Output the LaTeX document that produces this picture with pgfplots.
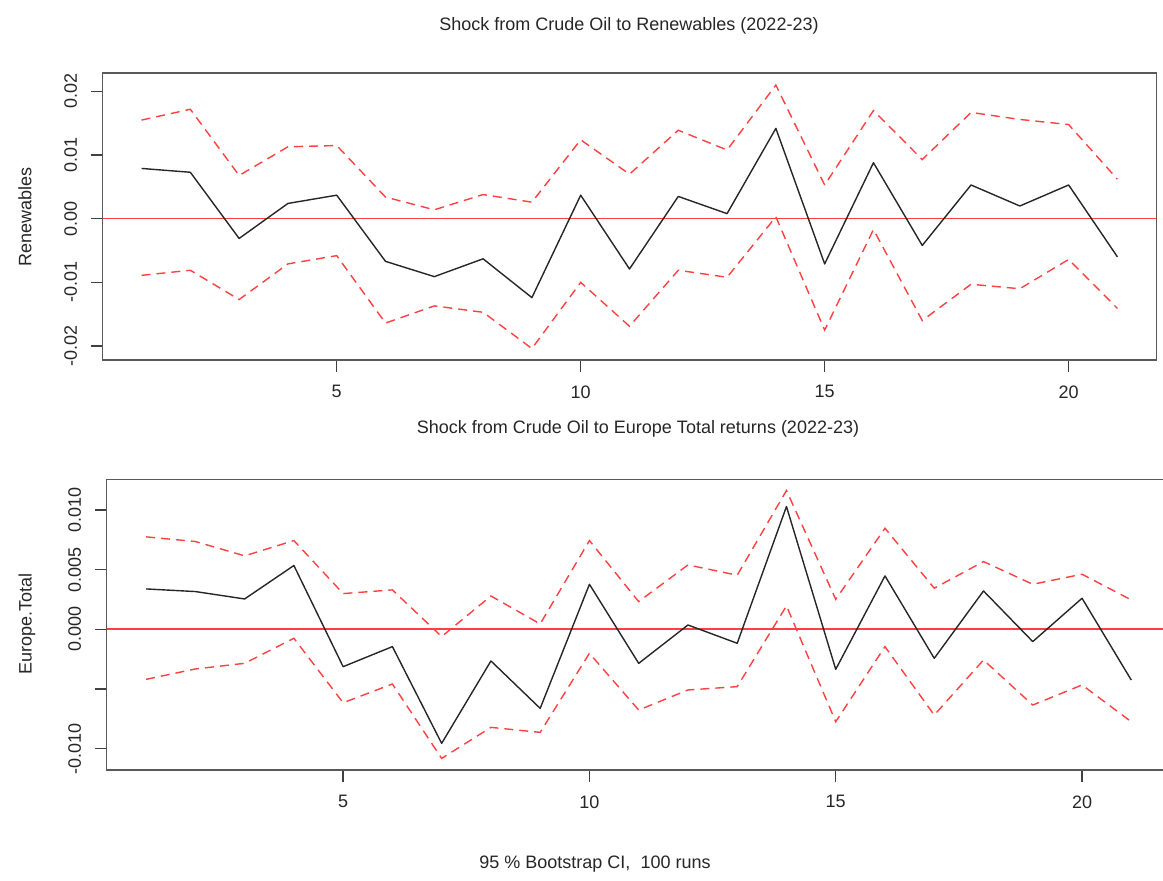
\documentclass[border=0pt]{standalone}
\usepackage{fontspec}
\setmainfont{Liberation Sans}
\usepackage{pgfplots}
\pgfplotsset{compat=1.18}
\usepackage{pgfplotstable}

\pgfplotstableread{
x   mid      up       lo
1   0.0079   0.0155  -0.0089
2   0.0073   0.0172  -0.0081
3  -0.0031   0.0068  -0.0127
4   0.0024   0.0113  -0.0071
5   0.0037   0.0115  -0.0058
6  -0.0067   0.0034  -0.0164
7  -0.0091   0.0014  -0.0137
8  -0.0063   0.0038  -0.0147
9  -0.0124   0.0026  -0.0204
10  0.0037   0.0124  -0.0100
11 -0.0079   0.0070  -0.0169
12  0.0035   0.0139  -0.0081
13  0.0008   0.0108  -0.0092
14  0.0142   0.0210   0.0003
15 -0.0071   0.0053  -0.0175
16  0.0088   0.0170  -0.0017
17 -0.0042   0.0093  -0.0160
18  0.0053   0.0167  -0.0103
19  0.0020   0.0156  -0.0110
20  0.0053   0.0148  -0.0064
21 -0.0060   0.0062  -0.0141
}\renew

\pgfplotstableread{
x   mid       up        lo
1   0.00338   0.00774  -0.00419
2   0.00316   0.00735  -0.00332
3   0.00254   0.00615  -0.00285
4   0.00534   0.00743  -0.00075
5  -0.00313   0.00299  -0.00615
6  -0.00145   0.00330  -0.00458
7  -0.00955  -0.00061  -0.01081
8  -0.00265   0.00279  -0.00821
9  -0.00662   0.00045  -0.00863
10  0.00377   0.00743  -0.00201
11 -0.00285   0.00232  -0.00676
12  0.00036   0.00539  -0.00508
13 -0.00117   0.00453  -0.00480
14  0.01028   0.01162   0.00196
15 -0.00335   0.00251  -0.00774
16  0.00447   0.00846  -0.00145
17 -0.00243   0.00344  -0.00718
18  0.00321   0.00567  -0.00257
19 -0.00103   0.00377  -0.00634
20  0.00260   0.00461  -0.00466
21 -0.00425   0.00246  -0.00774
}\eur

\definecolor{rred}{rgb}{1,0.25,0.25}
\pgfplotsset{
  irf/.style={
    scale only axis,
    xmin=0.2, xmax=21.8,
    xtick={5,10,15,20},
    scaled y ticks=false,
    axis line style={black!65, line width=1.5pt},
    tick style={black!75, line width=1.3pt},
    tick align=outside,
    major tick length=12pt,
    xtick pos=bottom, ytick pos=left,
    tick label style={font=\fontsize{18}{21}\selectfont, black!85},
    /pgf/number format/assume math mode=true,
    yticklabel style={rotate=90, anchor=south},
    xticklabel shift=10pt,
    yticklabel shift=10pt,
    clip=true,
  },
  midline/.style={black!85, line width=1.4pt, line join=round},
  ciline/.style={color=rred, line width=1.4pt, dash pattern=on 9pt off 6pt},
  zerol/.style={draw=rred, solid, line width=1.5pt},
}

\begin{document}
\begin{tikzpicture}[x=1pt,y=1pt,font=\fontsize{18}{21}\selectfont]
\useasboundingbox (0,0) rectangle (1163,881);

\begin{axis}[irf,
  at={(102.5pt,521pt)}, anchor=south west,
  width=1054pt, height=287pt,
  ymin=-0.0222, ymax=0.0229,
  ytick={-0.02,-0.01,0,0.01,0.02},
  yticklabels={-0.02,-0.01,0.00,0.01,0.02},
]
\addplot[ciline] table[x=x,y=up] {\renew};
\addplot[ciline] table[x=x,y=lo] {\renew};
\addplot[zerol] coordinates {(0.2,0) (21.8,0)};
\addplot[midline] table[x=x,y=mid] {\renew};
\end{axis}

\begin{axis}[irf,
  at={(106.7pt,111pt)}, anchor=south west,
  width=1064pt, height=290.7pt,
  ymin=-0.01178, ymax=0.01256,
  ytick={-0.01,-0.005,0,0.005,0.01},
  yticklabels={-0.010,,0.000,0.005,0.010},
]
\addplot[ciline] table[x=x,y=up] {\eur};
\addplot[ciline] table[x=x,y=lo] {\eur};
\addplot[zerol] coordinates {(0.2,0.00001) (21.8,0.00001)};
\addplot[midline] table[x=x,y=mid] {\eur};
\end{axis}

\node[anchor=base, black!85] at (629,850) {Shock from Crude Oil to Renewables (2022-23)};
\node[anchor=base, black!85] at (638,447) {Shock from Crude Oil to Europe Total returns (2022-23)};
\node[rotate=90, black!85] at (25,664) {Renewables};
\node[rotate=90, black!85] at (27,257) {Europe.Total};
\node[anchor=base, black!85] at (595,12) {95 \% Bootstrap CI,\ \ 100 runs};
\end{tikzpicture}
\end{document}
